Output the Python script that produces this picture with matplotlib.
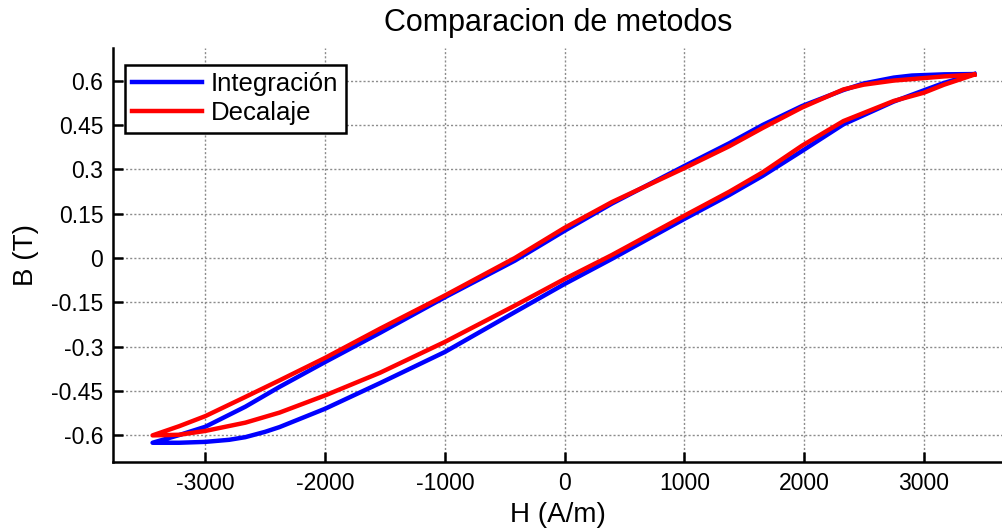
import numpy as np
import matplotlib
matplotlib.use("Agg")
import matplotlib.pyplot as plt

plt.rcParams['font.family'] = ['Liberation Sans', 'DejaVu Sans']

# --- data (H in A/m, B in T) ---
# Integracion: upper branch (H falling) then lower branch (H rising)
h_int_up = [3420, 3168, 2900, 2748, 2496, 2328, 1983, 1655, 1375, 1000, 395, 0,
            -415, -1000, -1540, -2000, -2380, -2665, -3000, -3218, -3440]
b_int_up = [0.622, 0.621, 0.617, 0.610, 0.590, 0.568, 0.514, 0.450, 0.388, 0.311, 0.184, 0.092,
            -0.009, -0.133, -0.253, -0.352, -0.436, -0.503, -0.571, -0.599, -0.625]
h_int_lo = [-3440, -3218, -3000, -2800, -2665, -2500, -2380, -2000, -1540, -1000, -415, 0, 395,
            1000, 1375, 1655, 1983, 2328, 2748, 3000, 3168, 3420]
b_int_lo = [-0.625, -0.625, -0.622, -0.615, -0.606, -0.588, -0.572, -0.510, -0.423, -0.318, -0.183,
            -0.088, -0.003, 0.132, 0.213, 0.278, 0.362, 0.452, 0.529, 0.567, 0.592, 0.622]

# Decalaje
h_dec_up = [3420, 3168, 2748, 2496, 2328, 1983, 1655, 1375, 1000, 395, 0,
            -415, -1000, -1540, -2000, -2380, -2665, -3000, -3218, -3440]
b_dec_up = [0.620, 0.614, 0.600, 0.586, 0.570, 0.509, 0.440, 0.378, 0.304, 0.189, 0.102,
            0.000, -0.127, -0.239, -0.338, -0.414, -0.470, -0.535, -0.569, -0.600]
h_dec_lo = [-3440, -3218, -3000, -2665, -2380, -2000, -1540, -1000, -415, 0, 395,
            1000, 1375, 1655, 1983, 2328, 2748, 3000, 3168, 3420]
b_dec_lo = [-0.600, -0.598, -0.585, -0.557, -0.523, -0.465, -0.388, -0.284, -0.161, -0.071, 0.010,
            0.143, 0.224, 0.290, 0.380, 0.463, 0.531, 0.559, 0.586, 0.620]

x_ticks = [-3000, -2000, -1000, 0, 1000, 2000, 3000]
y_ticks = [-0.6, -0.45, -0.3, -0.15, 0, 0.15, 0.3, 0.45, 0.6]
y_tick_labels = ['-0.6', '-0.45', '-0.3', '-0.15', '0', '0.15', '0.3', '0.45', '0.6']

# --- figure ---
fig = plt.figure(figsize=(10.03, 5.29), dpi=100)
ax = fig.add_axes([0.1127, 0.1267, 0.8873, 0.7825])

ax.plot(h_int_up + h_int_lo, b_int_up + b_int_lo, color='#0000ff', lw=3.2,
        label='Integración', solid_joinstyle='round')
ax.plot(h_dec_up + h_dec_lo, b_dec_up + b_dec_lo, color='#ff0000', lw=3.2,
        label='Decalaje', solid_joinstyle='round')

ax.set_xlim(-3770, 3660)
ax.set_ylim(-0.69, 0.71)
ax.set_xticks(x_ticks)
ax.set_xticklabels([str(v) for v in x_ticks])
ax.set_yticks(y_ticks)
ax.set_yticklabels(y_tick_labels)

ax.grid(True, linestyle=(0, (1.5, 1.5)), color='#8c8c8c', linewidth=1.0)
ax.set_axisbelow(True)

for s in ['top', 'right']:
    ax.spines[s].set_visible(False)
for s in ['left', 'bottom']:
    ax.spines[s].set_linewidth(1.8)

ax.tick_params(direction='in', length=7, width=1.8, labelsize=16.5, pad=7)

ax.set_title('Comparacion de metodos', fontsize=22, pad=12)
ax.set_xlabel('H (A/m)', fontsize=20, labelpad=5)
ax.set_ylabel('B (T)', fontsize=20, labelpad=9)

leg = ax.legend(loc='upper left', bbox_to_anchor=(0.013, 0.96), fontsize=18.5,
                fancybox=False, framealpha=1, edgecolor='black',
                handlelength=2.7, borderpad=0.3, labelspacing=0.2,
                handletextpad=0.35, borderaxespad=0)
leg.get_frame().set_linewidth(1.8)

fig.savefig('out.png', dpi=100)
